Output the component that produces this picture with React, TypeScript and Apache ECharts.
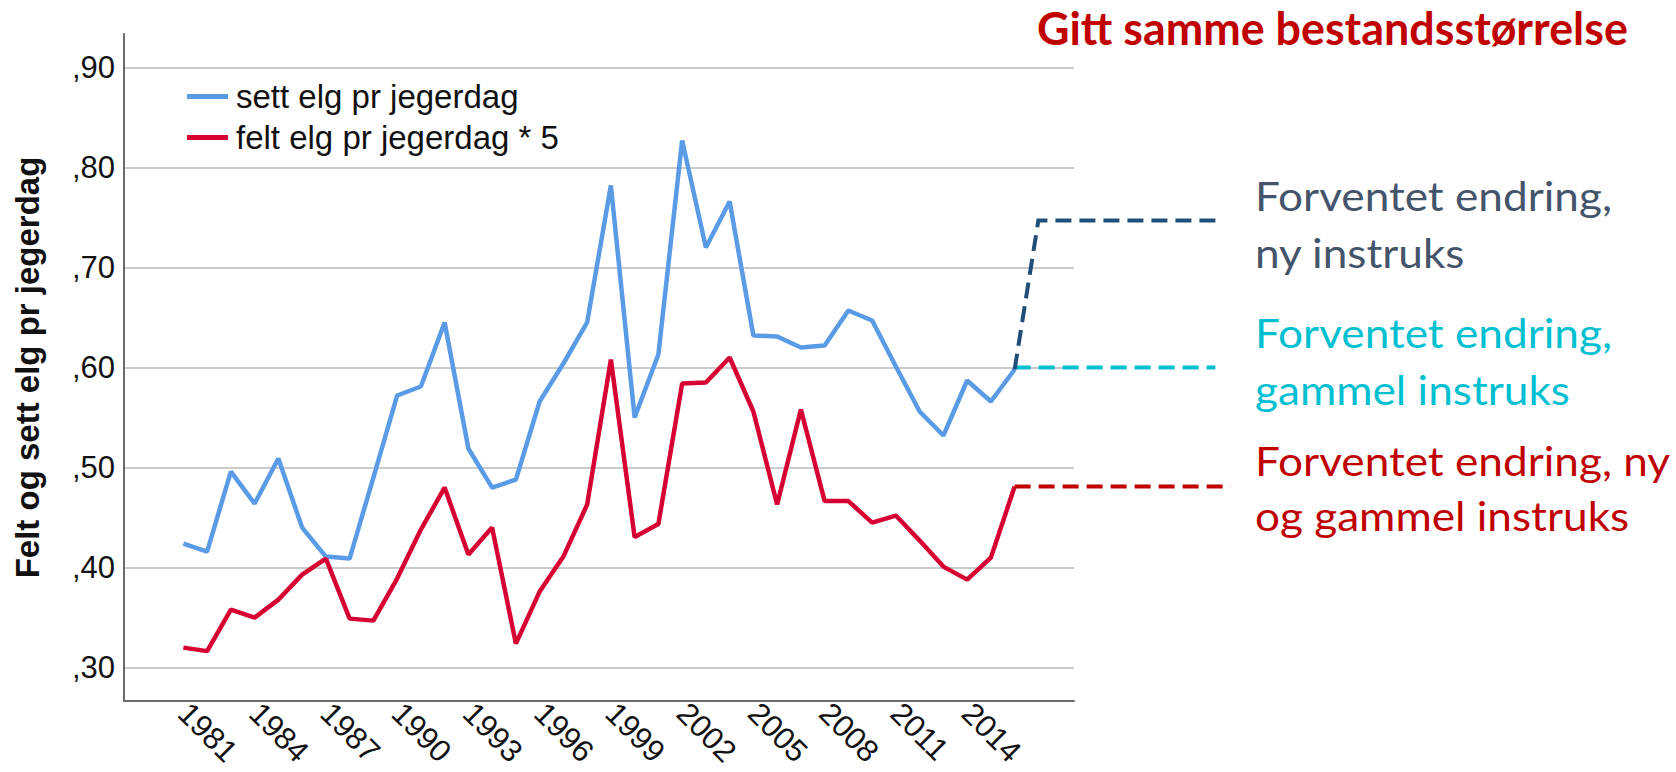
import React, { useEffect, useRef } from "react";
import * as echarts from "echarts";

const years = [
  1981, 1982, 1983, 1984, 1985, 1986, 1987, 1988, 1989, 1990, 1991, 1992,
  1993, 1994, 1995, 1996, 1997, 1998, 1999, 2000, 2001, 2002, 2003, 2004,
  2005, 2006, 2007, 2008, 2009, 2010, 2011, 2012, 2013, 2014, 2015, 2016,
];
const settElg = [
  0.424, 0.416, 0.496, 0.464, 0.509, 0.44, 0.411, 0.409, 0.49, 0.572, 0.581,
  0.645, 0.519, 0.48, 0.488, 0.566, 0.604, 0.645, 0.782, 0.55, 0.613, 0.827,
  0.72, 0.766, 0.632, 0.631, 0.62, 0.622, 0.657, 0.647, 0.601, 0.556, 0.532,
  0.587, 0.566, 0.598,
];
const feltElg5 = [
  0.32, 0.3165, 0.358, 0.35, 0.368, 0.393, 0.409, 0.349, 0.347, 0.389, 0.438,
  0.48, 0.413, 0.44, 0.324, 0.376, 0.411, 0.463, 0.608, 0.4305, 0.4435, 0.584,
  0.585, 0.61, 0.556, 0.463, 0.558, 0.4665, 0.4665, 0.445, 0.452, 0.427, 0.401,
  0.388, 0.41, 0.481,
];
const yTicks = [0.3, 0.4, 0.5, 0.6, 0.7, 0.8, 0.9];
const xTickYears = [1981, 1984, 1987, 1990, 1993, 1996, 1999, 2002, 2005, 2008, 2011, 2014];

// expected-change dashed projections (in data units)
const nyInstruksX = [2016, 2017, 2024.6];
const nyInstruksY = [0.598, 0.747, 0.747];
const gammelInstruksX = [2016, 2024.45];
const gammelInstruksY = [0.6, 0.6];
const begeInstruksX = [2016, 2025.1];
const begeInstruksY = [0.481, 0.481];

const seriesNames = ["sett elg pr jegerdag", "felt elg pr jegerdag * 5"];
const yAxisName = "Felt og sett elg pr jegerdag";
const titleText = "Gitt samme bestandsstørrelse";
const annNy = ["Forventet endring,", "ny instruks"];
const annGammel = ["Forventet endring,", "gammel instruks"];
const annBege = ["Forventet endring, ny", "og gammel instruks"];

const zip = (xs: number[], ys: number[]) => xs.map((x, i) => [x, ys[i]]);

export default function App() {
  const ref = useRef<HTMLDivElement>(null);
  useEffect(() => {
    document.body.style.margin = "0";
    const chart = echarts.init(ref.current!, null, { renderer: "svg" });

    const canvas = document.createElement("canvas");
    const ctx = canvas.getContext("2d")!;
    const measure = (t: string, font: string) => {
      ctx.font = font;
      return ctx.measureText(t).width;
    };
    const annSize = 40;
    const annScale = 357 / measure("Forventet endring,", `${annSize}px Lato`);
    const titleSize = 45;
    const titleScale = 591 / measure(titleText, `bold ${titleSize}px Lato`);
    const mid = 0.387; // central-baseline offset for Lato

    const annText = (text: string, baseline: number, color: string) => ({
      type: "text",
      x: 1255,
      y: baseline + 3 - mid * annSize,
      scaleX: annScale,
      silent: true,
      style: {
        text,
        fill: color,
        fontFamily: "Lato",
        fontSize: annSize,
        textAlign: "left",
        verticalAlign: "middle",
        textVerticalAlign: "middle",
      },
    });

    chart.setOption({
      animation: false,
      backgroundColor: "#ffffff",
      grid: {
        left: 124,
        right: 602,
        top: 34,
        bottom: 71,
        containLabel: false,
        outerBoundsMode: "none",
      },
      legend: {
        data: seriesNames,
        orient: "vertical",
        left: 187,
        top: 73,
        padding: 0,
        itemGap: -6,
        itemWidth: 41,
        itemHeight: 5,
        icon: "rect",
        textStyle: {
          fontFamily: "Liberation Sans",
          fontSize: 33,
          color: "#111111",
          lineHeight: 33,
          padding: [14, 0, 0, 3],
        },
      },
      xAxis: {
        type: "value",
        min: 1978.5,
        max: 2018.5,
        splitLine: { show: false },
        axisTick: { show: false, customValues: xTickYears },
        axisLine: { show: true, onZero: false, lineStyle: { color: "#6b6b6b", width: 2 } },
        axisLabel: {
          customValues: xTickYears,
          rotate: -45,
          margin: 7,
          fontFamily: "Liberation Sans",
          fontSize: 31,
          color: "#111111",
          formatter: (v: number) => String(Math.round(v)),
        },
      },
      yAxis: {
        type: "value",
        min: 0.3 - 1 / 30,
        max: 0.9 + 1 / 30,
        name: yAxisName,
        nameLocation: "middle",
        nameRotate: 90,
        nameGap: 80,
        nameTextStyle: {
          fontFamily: "Liberation Sans",
          fontWeight: "bold",
          fontSize: 33,
          color: "#111111",
        },
        axisLine: { show: true, lineStyle: { color: "#6b6b6b", width: 2 } },
        axisTick: { show: false, customValues: yTicks },
        splitLine: { show: true, lineStyle: { color: "#cbcbcb", width: 2 } },
        axisLabel: {
          customValues: yTicks,
          margin: 9,
          padding: [12, 0, 0, 0],
          fontFamily: "Liberation Sans",
          fontSize: 31,
          color: "#111111",
          formatter: (v: number) => "," + String(Math.round(v * 100)),
        },
      },
      series: [
        {
          name: seriesNames[0],
          type: "line",
          data: zip(years, settElg),
          symbol: "none",
          color: "#5A9BE6",
          lineStyle: { color: "#5A9BE6", width: 4.5 },
          z: 2,
        },
        {
          name: seriesNames[1],
          type: "line",
          data: zip(years, feltElg5),
          symbol: "none",
          color: "#D60032",
          lineStyle: { color: "#D60032", width: 4.5 },
          z: 2,
        },
      ],
    });

    const toPx = (xs: number[], ys: number[]) =>
      xs.map((x, i) => chart.convertToPixel({ gridIndex: 0 }, [x, ys[i]]) as number[]);
    const dashed = (pts: number[][], color: string) => ({
      type: "polyline",
      silent: true,
      z: 10,
      shape: { points: pts },
      style: { stroke: color, lineWidth: 4, lineDash: [16, 8], fill: null },
    });

    chart.setOption({
      graphic: [
        dashed(toPx(gammelInstruksX, gammelInstruksY), "#00BFD1"),
        dashed(toPx(nyInstruksX, nyInstruksY), "#1F4E79"),
        dashed(toPx(begeInstruksX, begeInstruksY), "#C00000"),
        {
          type: "text",
          x: 1037,
          y: 45 - mid * titleSize,
          scaleX: titleScale,
          silent: true,
          style: {
            text: titleText,
            fill: "#C00000",
            fontFamily: "Lato",
            fontWeight: "bold",
            fontSize: titleSize,
            textAlign: "left",
            verticalAlign: "middle",
            textVerticalAlign: "middle",
          },
        },
        annText(annNy[0], 208, "#44546A"),
        annText(annNy[1], 265, "#44546A"),
        annText(annGammel[0], 345, "#00BFD1"),
        annText(annGammel[1], 402, "#00BFD1"),
        annText(annBege[0], 473, "#C00000"),
        annText(annBege[1], 528, "#C00000"),
      ],
    });
    return () => chart.dispose();
  }, []);
  return (
    <div
      ref={ref}
      style={{ position: "fixed", left: 0, top: 0, width: 1676, height: 772 }}
    />
  );
}
